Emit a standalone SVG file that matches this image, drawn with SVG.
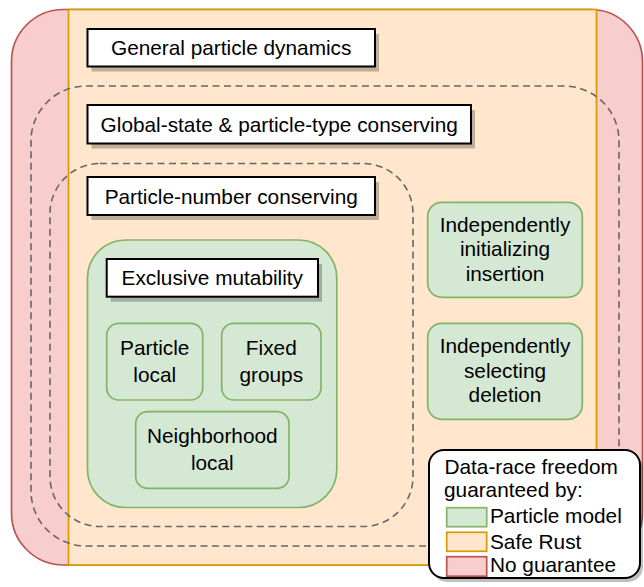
<svg xmlns="http://www.w3.org/2000/svg" width="644" height="587" viewBox="0 0 644 587">
<style>
text{font-family:"Liberation Sans",Arial,Helvetica,sans-serif;font-size:20.8px;fill:#000;}
.c{text-anchor:middle;}
.red{fill:#f8cecc;stroke:#b85450;stroke-width:1.7;}
.orange{fill:#ffe6cc;stroke:#d79b00;stroke-width:1.7;}
.green{fill:#d5e8d4;stroke:#82b366;stroke-width:1.7;}
.dash{fill:none;stroke:#666666;stroke-width:1.6;stroke-dasharray:7 4.5;}
.label{fill:#ffffff;stroke:#000000;stroke-width:2;}
.shadow{fill:#000000;fill-opacity:0.25;stroke:none;}
.legend{fill:#ffffff;stroke:#000000;stroke-width:2;}
</style>
<g id="no-guarantee-region">
<rect class="red" x="11.5" y="9.5" width="631" height="555.5" rx="52" ry="52"/>
</g>
<g id="safe-rust-region">
<rect class="orange" x="68.5" y="9.5" width="528" height="555.5"/>
</g>
<g id="global-state-region">
<rect class="dash" x="31" y="86" width="588" height="460" rx="55" ry="55"/>
</g>
<g id="particle-number-region">
<rect class="dash" x="50" y="163.5" width="363" height="363" rx="50" ry="50"/>
</g>
<g id="general-particle-dynamics">
<rect class="shadow" x="91.5" y="34" width="287.5" height="37.5"/>
<rect class="label" x="87.5" y="29" width="287.5" height="37.5"/>
<text class="c" x="231.2" y="55">General particle dynamics</text>
</g>
<g id="global-state-conserving">
<rect class="shadow" x="91.5" y="110" width="383.5" height="38.5"/>
<rect class="label" x="87.5" y="105" width="383.5" height="38.5"/>
<text class="c" x="279.2" y="131.5">Global-state &amp; particle-type conserving</text>
</g>
<g id="particle-number-conserving">
<rect class="shadow" x="91.5" y="182" width="287.5" height="38"/>
<rect class="label" x="87.5" y="177" width="287.5" height="38"/>
<text class="c" x="231.2" y="203.5">Particle-number conserving</text>
</g>
<g id="exclusive-mutability-region">
<rect class="green" x="87.5" y="240" width="249.3" height="267.5" rx="38" ry="38"/>
</g>
<g id="exclusive-mutability">
<rect class="shadow" x="110.7" y="264" width="211.3" height="37.7"/>
<rect class="label" x="106.7" y="259" width="211.3" height="37.7"/>
<text class="c" x="212.3" y="284.8">Exclusive mutability</text>
</g>
<g id="particle-local">
<rect class="green" x="106.7" y="323.3" width="96" height="76.7" rx="12" ry="12"/>
<text class="c" x="154.7" y="355">Particle</text>
<text class="c" x="154.7" y="381.5">local</text>
</g>
<g id="fixed-groups">
<rect class="green" x="221.7" y="323.3" width="99.3" height="76.7" rx="12" ry="12"/>
<text class="c" x="271.3" y="355">Fixed</text>
<text class="c" x="271.3" y="381.5">groups</text>
</g>
<g id="neighborhood-local">
<rect class="green" x="135.7" y="411.7" width="153.3" height="76.7" rx="12" ry="12"/>
<text class="c" x="212.3" y="442.7">Neighborhood</text>
<text class="c" x="212.3" y="469.7">local</text>
</g>
<g id="independently-initializing-insertion">
<rect class="green" x="427.7" y="202.3" width="154.6" height="95" rx="14" ry="14"/>
<text class="c" x="505" y="231.7">Independently</text>
<text class="c" x="505" y="256.2">initializing</text>
<text class="c" x="505" y="280.7">insertion</text>
</g>
<g id="independently-selecting-deletion">
<rect class="green" x="427.7" y="323.3" width="154.6" height="96" rx="14" ry="14"/>
<text class="c" x="505" y="353.3">Independently</text>
<text class="c" x="505" y="377.6">selecting</text>
<text class="c" x="505" y="402.2">deletion</text>
</g>
<g id="connectors"></g>
<g id="legend">
<rect class="shadow" x="432" y="454" width="211" height="128" rx="15" ry="15"/>
<rect class="legend" x="429" y="450" width="211" height="128" rx="15" ry="15"/>
<text x="444.5" y="474">Data-race freedom</text>
<text x="444" y="497.3">guaranteed by:</text>
<rect class="green" x="446.7" y="507.7" width="40" height="19"/>
<text x="490" y="523.3">Particle model</text>
<rect class="orange" x="446.7" y="532.3" width="40" height="19"/>
<text x="490" y="549">Safe Rust</text>
<rect class="red" x="446.7" y="556.7" width="40" height="19.5"/>
<text x="490" y="572.3">No guarantee</text>
</g>
</svg>
